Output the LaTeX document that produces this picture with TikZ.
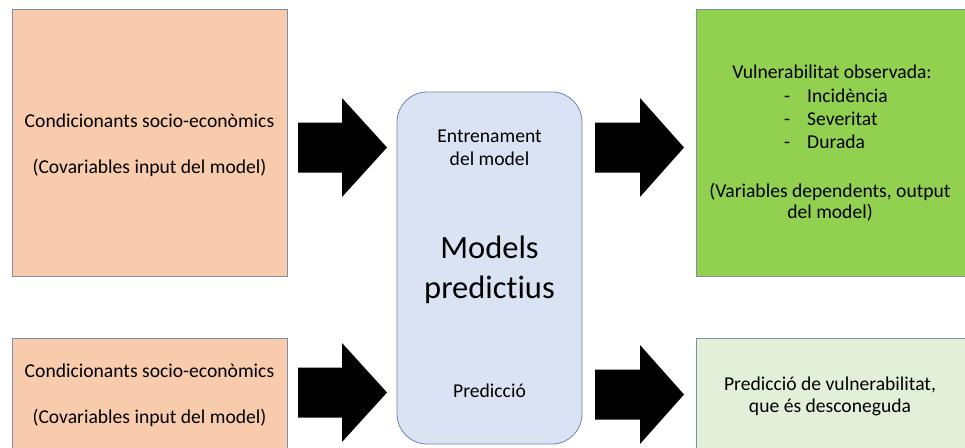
\documentclass[tikz,border=0pt]{standalone}
\usepackage{fontspec}
\setmainfont{Carlito}[Ligatures=NoCommon]
\begin{document}
\begin{tikzpicture}[x=1pt,y=-1pt,
  box/.style={draw=#1, line width=0.8pt},
  inbox/.style={box=boxline, fill=inputfill},
  lbl/.style={font=\fontsize{19.6}{23}\selectfont, inner sep=0pt, anchor=base},
  lbll/.style={lbl, anchor=base west},
  big/.style={font=\fontsize{32.5}{40}\selectfont, inner sep=0pt, anchor=base},
  blockarrow/.style={fill=black}
]
\definecolor{inputfill}{HTML}{F8CBAD}
\definecolor{boxline}{HTML}{7E8DA8}
\definecolor{modelfill}{HTML}{DAE3F3}
\definecolor{modelline}{HTML}{6F86AE}
\definecolor{obsfill}{HTML}{92D050}
\definecolor{predfill}{HTML}{E2F0D9}

\useasboundingbox (0,0) rectangle (965,447);
\clip (0,0) rectangle (965,447);

% input boxes
\draw[inbox] (12,9) rectangle (287,276);
\draw[inbox] (12,338) rectangle (287,460);
\node[lbl] (in1a) at (149.5,127) {Condicionants socio-econòmics};
\node[lbl] (in1b) at (149.5,173) {(Covariables input del model)};
\node[lbl] (in2a) at (149.5,377) {Condicionants socio-econòmics};
\node[lbl] (in2b) at (149.5,423) {(Covariables input del model)};

% central model box
\draw[box=modelline, fill=modelfill, rounded corners=30pt] (397,92) rectangle (582,444);
\node[lbl] (train1) at (489.5,142) {Entrenament};
\node[lbl] (train2) at (489.5,165) {del model};
\node[big] (model1) at (489.5,258) {Models};
\node[big] (model2) at (489.5,298) {predictius};
\node[lbl] (pred) at (489.5,397) {Predicció};

% output boxes
\draw[box=boxline, fill=obsfill] (696,9) rectangle (975,276);
\draw[box=boxline, fill=predfill] (696,338) rectangle (975,460);
\node[lbl] (obs) at (832,78) {Vulnerabilitat observada:};
\node[lbl] (d1) at (787,102) {-};
\node[lbll] (i1) at (807,102) {Incidència};
\node[lbl] (d2) at (787,125) {-};
\node[lbll] (i2) at (807,125) {Severitat};
\node[lbl] (d3) at (787,148) {-};
\node[lbll] (i3) at (807,148) {Durada};
\node[lbl] (dep1) at (830,197) {(Variables dependents, output};
\node[lbl] (dep2) at (830,218) {del model)};
\node[lbl] (unk1) at (830,390) {Predicció de vulnerabilitat,};
\node[lbl] (unk2) at (830,412) {que és desconeguda};

% block arrows: shaft from x0 to x1, tip at x2, centred on y
\newcommand{\blockarr}[4]{%
  \fill[blockarrow] (#1,#4-25) -- (#2,#4-25) -- (#2,#4-49.5) -- (#3,#4)
    -- (#2,#4+49.5) -- (#2,#4+25) -- (#1,#4+25) -- cycle;}
\blockarr{298}{342}{387}{147.5}
\blockarr{298}{342}{387}{392.5}
\blockarr{595}{640}{684}{147.5}
\blockarr{595}{640}{684}{394.5}
\end{tikzpicture}
\end{document}
